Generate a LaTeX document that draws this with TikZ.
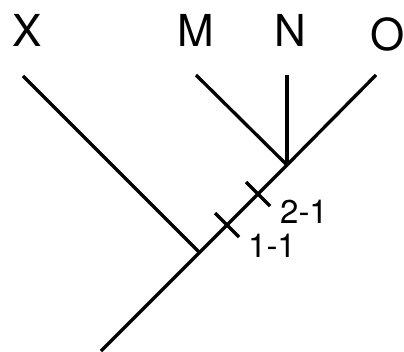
\documentclass[tikz,border=0pt]{standalone}
\usepackage{fontspec}
\setmainfont{TeX Gyre Heros}
\usetikzlibrary{calc,positioning}

\begin{document}
\begin{tikzpicture}[x=1pt, y=1pt,
    branch/.style={line width=3.3pt},
    tickmark/.style={line width=3.3pt},
    taxon/.style={inner sep=0pt, font=\fontsize{44}{44}\selectfont},
    change/.style={inner sep=0pt, font=\fontsize{33}{33}\selectfont}
]
\useasboundingbox (0,0) rectangle (404,351);
\coordinate (root) at (101,0);
\coordinate (xmno) at (199.5,98.5);
\coordinate (mno) at (287,186);
\coordinate (tipx) at (23,275);
\coordinate (tipm) at (196,276);
\coordinate (tipn) at (287,276);
\coordinate (tipo) at (376,276);

\node[taxon] (x) at (27,321) {X};
\node[taxon] (m) at (196,321) {M};
\node[taxon] (n) at (290,321) {N};
\node[taxon] (o) at (388,317) {O};

\draw[branch] (root) -- (xmno) -- (mno) -- (tipo);
\draw[branch] (xmno) -- (tipx);
\draw[branch] (mno) -- (tipm);
\draw[branch] (mno) -- (tipn);

\path (xmno) -- (mno) coordinate[pos=0.314] (c11) coordinate[pos=0.669] (c21);
\draw[tickmark] ($(c11)+(-12,12)$) -- ($(c11)+(12,-12)$);
\draw[tickmark] ($(c21)+(-12,12)$) -- ($(c21)+(12,-12)$);

\node[change] (l21) at (304,139) {2-1};
\node[change] (l11) at (272,105) {1-1};
\end{tikzpicture}
\end{document}
